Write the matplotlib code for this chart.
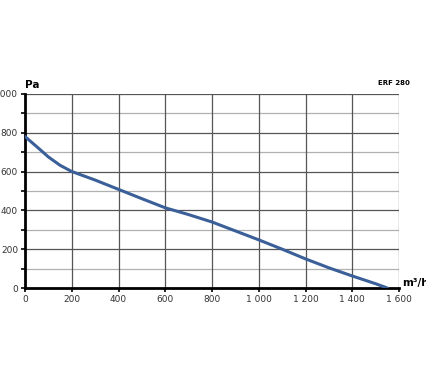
import matplotlib.pyplot as plt

# fan curve
flow = [0, 50, 100, 150, 200, 300, 400, 500, 600, 700, 800, 900, 1000, 1100, 1200, 1300, 1400, 1500, 1550]
pressure = [780, 728, 675, 632, 600, 556, 508, 460, 413, 378, 340, 294, 248, 200, 150, 104, 62, 22, 0]

x_ticks = [0, 200, 400, 600, 800, 1000, 1200, 1400, 1600]
x_labels = ["0", "200", "400", "600", "800", "1 000", "1 200", "1 400", "1 600"]
y_ticks = [0, 200, 400, 600, 800, 1000]

fig = plt.figure(figsize=(4.26, 3.83), dpi=100)
ax = fig.add_axes([0.0587, 0.248, 0.878, 0.507])

# grid: dark lines every 200, lighter horizontals at the odd hundreds
for yv in range(100, 1000, 200):
    ax.axhline(yv, color="#b0b0b0", lw=0.9, zorder=1)
for yv in range(200, 1001, 200):
    ax.axhline(yv, color="#555555", lw=0.9, zorder=1)
for xv in range(200, 1601, 200):
    ax.axvline(xv, color="#555555", lw=0.9, zorder=1)

ax.plot(flow, pressure, color="#3b5f99", lw=2.2, solid_capstyle="round", zorder=3)

ax.set_xlim(0, 1600)
ax.set_ylim(0, 1000)
ax.set_xticks(x_ticks)
ax.set_xticklabels(x_labels)
ax.set_yticks(y_ticks)
ax.set_yticks(range(100, 1000, 200), minor=True)

for side in ["top", "right"]:
    ax.spines[side].set_visible(False)
for side in ["left", "bottom"]:
    ax.spines[side].set_linewidth(2.0)
    ax.spines[side].set_color("black")

ax.tick_params(axis="both", which="major", labelsize=6.5, labelcolor="#333333",
               length=3, width=1.2, direction="out", pad=2)
ax.tick_params(axis="y", which="minor", length=3, width=1.2, direction="out")

fig.text(0.058, 0.765, "Pa", fontsize=7.5, fontweight="bold", ha="left", va="bottom")
fig.text(0.944, 0.262, "m³/h", fontsize=7.5, fontweight="bold", ha="left", va="center")
fig.text(0.963, 0.783, "ERF 280", fontsize=5, fontweight="bold", ha="right", va="center")

fig.savefig("out.png", dpi=100)
